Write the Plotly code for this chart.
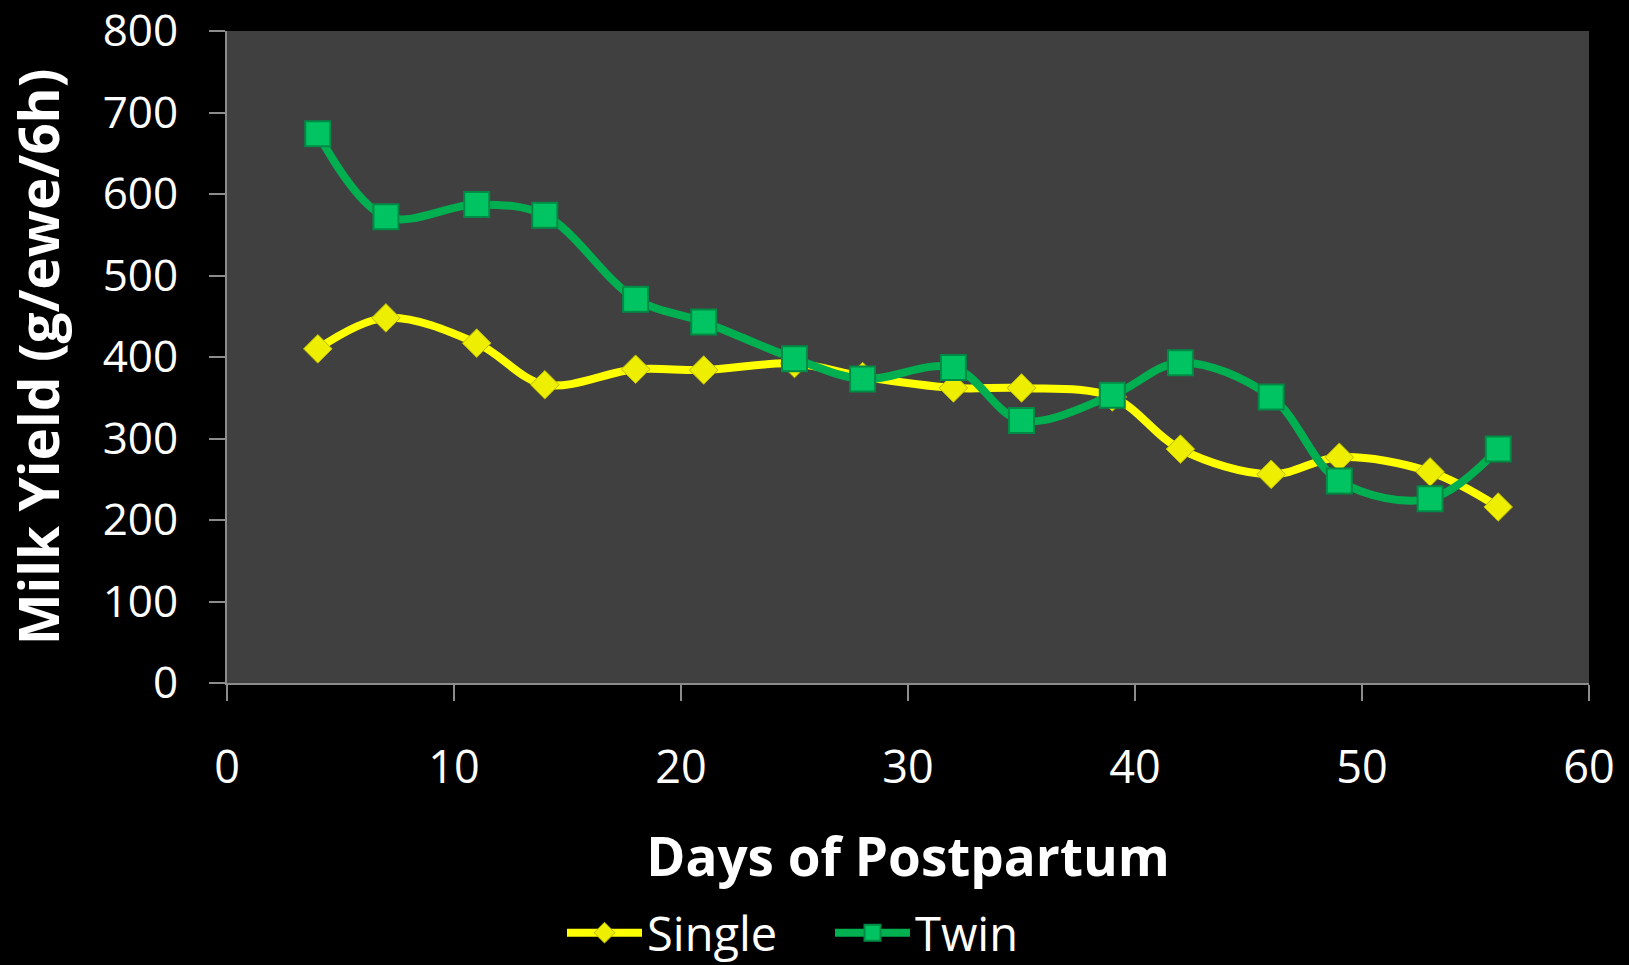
import plotly.graph_objects as go

days = [4, 7, 11, 14, 18, 21, 25, 28, 32, 35, 39, 42, 46, 49, 53, 56]
single = [410, 448, 417, 366, 385, 384, 392, 376, 362, 362, 351, 287, 256, 277, 259, 216]
twin = [674, 572, 587, 574, 471, 443, 398, 373, 387, 322, 353, 393, 351, 248, 226, 287]

x_ticks = [0, 10, 20, 30, 40, 50, 60]
y_ticks = [0, 100, 200, 300, 400, 500, 600, 700, 800]

FONT = "Open Sans"

fig = go.Figure()
fig.add_trace(go.Scatter(
    x=days, y=single, name="Single", mode="lines+markers",
    line=dict(color="#FFFF00", width=8, shape="spline", smoothing=1.0),
    marker=dict(symbol="diamond", size=22, color="#EEEE00",
                line=dict(color="#B8B800", width=1)),
))
fig.add_trace(go.Scatter(
    x=days, y=twin, name="Twin", mode="lines+markers",
    line=dict(color="#00B050", width=8, shape="spline", smoothing=1.0),
    marker=dict(symbol="square", size=25, color="#00C462",
                line=dict(color="#008A45", width=2)),
))

fig.update_layout(
    width=1629, height=965,
    paper_bgcolor="#000000", plot_bgcolor="#404040",
    margin=dict(l=227, r=40, t=31, b=282, autoexpand=False),
    font=dict(family=FONT, color="#FFFFFF", size=45),
    showlegend=True,
    legend=dict(orientation="h", xref="container", yref="container",
                x=0.345, xanchor="left", y=0.033, yanchor="middle",
                font=dict(size=47, color="#FFFFFF"), bgcolor="rgba(0,0,0,0)",
                itemwidth=75, entrywidth=178, tracegroupgap=0),
    xaxis=dict(
        range=[0, 60], tickvals=x_ticks, ticktext=[str(v) for v in x_ticks],
        showgrid=False, zeroline=False, automargin=False,
        showline=True, linecolor="#8C8C8C", linewidth=2,
        ticks="outside", ticklen=16, tickcolor="#8C8C8C", tickwidth=2,
        ticklabelstandoff=28, ticklabeloverflow="allow",
        tickfont=dict(size=45, color="#FFFFFF", family=FONT),
        title=dict(text="<b>Days of Postpartum</b>", standoff=44,
                   font=dict(size=53, color="#FFFFFF", family=FONT)),
    ),
    yaxis=dict(
        range=[0, 800], tickvals=y_ticks, ticktext=[str(v) for v in y_ticks],
        showgrid=False, zeroline=False, automargin=False,
        showline=True, linecolor="#8C8C8C", linewidth=2,
        ticks="outside", ticklen=16, tickcolor="#8C8C8C", tickwidth=2,
        ticklabelstandoff=22, ticklabeloverflow="allow",
        tickfont=dict(size=44, color="#FFFFFF", family=FONT),
        title=dict(text="<b>Milk Yield (g/ewe/6h)</b>", standoff=27,
                   font=dict(size=55, color="#FFFFFF", family=FONT)),
    ),
)

fig.write_html(
    "out.html",
    config={"displayModeBar": False},
    post_script="document.body.style.margin='0';document.body.style.background='#000';",
)
